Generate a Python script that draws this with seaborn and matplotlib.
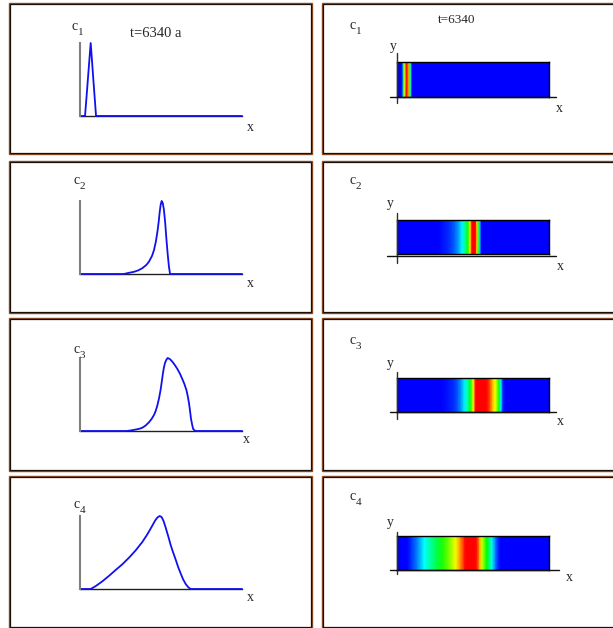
import numpy as np
import matplotlib
matplotlib.use("Agg")
import matplotlib.pyplot as plt
import seaborn as sns
from matplotlib.colors import LinearSegmentedColormap
from matplotlib.patches import Rectangle
from matplotlib.lines import Line2D

# concentration profiles c_i(x) at t=6340 a, x scaled to [0, 1], c scaled to its peak
x1 = [0.0, 0.031, 0.042, 0.052, 0.060, 0.066, 0.074, 0.083, 0.091, 0.099, 1.0]
c1 = [0.0, 0.0, 0.31, 0.60, 0.83, 1.0, 0.76, 0.48, 0.24, 0.0, 0.0]

x2 = [0.0, 0.27, 0.30, 0.333, 0.36, 0.385, 0.41, 0.426, 0.445, 0.457, 0.468, 0.478,
      0.486, 0.492, 0.498, 0.504, 0.511, 0.518, 0.526, 0.533, 0.541, 0.549, 0.556, 1.0]
c2 = [0.0, 0.0, 0.015, 0.03, 0.05, 0.08, 0.125, 0.17, 0.25, 0.33, 0.44, 0.58,
      0.72, 0.85, 0.95, 1.0, 0.97, 0.88, 0.70, 0.49, 0.28, 0.10, 0.0, 0.0]

x3 = [0.0, 0.29, 0.32, 0.344, 0.365, 0.385, 0.405, 0.426, 0.442, 0.457, 0.468, 0.478,
      0.488, 0.498, 0.505, 0.512, 0.518, 0.525, 0.533, 0.541, 0.555, 0.570, 0.585,
      0.601, 0.617, 0.632, 0.645, 0.657, 0.665, 0.673, 0.679, 0.685, 0.692, 0.698,
      0.706, 0.714, 1.0]
c3 = [0.0, 0.0, 0.01, 0.02, 0.03, 0.045, 0.075, 0.12, 0.165, 0.22, 0.28, 0.355,
      0.45, 0.57, 0.68, 0.79, 0.87, 0.935, 0.975, 1.0, 0.985, 0.95, 0.905,
      0.85, 0.785, 0.71, 0.64, 0.56, 0.48, 0.38, 0.28, 0.17, 0.09, 0.03,
      0.01, 0.0, 0.0]

x4 = [0.0, 0.066, 0.097, 0.138, 0.179, 0.22, 0.262, 0.303, 0.344, 0.385, 0.416, 0.447,
      0.463, 0.478, 0.492, 0.504, 0.516, 0.529, 0.545, 0.56, 0.575, 0.591, 0.606,
      0.622, 0.637, 0.652, 0.668, 0.683, 1.0]
c4 = [0.0, 0.0, 0.04, 0.105, 0.18, 0.26, 0.34, 0.43, 0.53, 0.645, 0.75, 0.87,
      0.935, 0.98, 1.0, 0.985, 0.93, 0.84, 0.72, 0.60, 0.50, 0.40, 0.30,
      0.21, 0.13, 0.07, 0.025, 0.0, 0.0]

profiles = [(x1, c1), (x2, c2), (x3, c3), (x4, c4)]
left_title = "t=6340 a"
right_title = "t=6340"

W, H = 613, 628

sns.set_style("white")
plt.rcParams['font.family'] = ['Liberation Serif', 'DejaVu Serif']

# blue -> cyan -> green -> yellow -> red
cmap = LinearSegmentedColormap.from_list(
    "conc", [(0.0, "#0000ff"), (0.18, "#00ffff"), (0.40, "#00ff00"),
             (0.66, "#ffff00"), (0.88, "#ff0000"), (1.0, "#ff0000")])


def fx(px):
    return px / W


def fy(py):
    return 1 - py / H


def box(left, top, right, bottom):
    return [fx(left), fy(bottom), (right - left) / W, (bottom - top) / H]


def seg(x0, y0, x1_, y1_, color, lw):
    fig.add_artist(Line2D([fx(x0), fx(x1_)], [fy(y0), fy(y1_)], color=color,
                          lw=lw, transform=fig.transFigure))


def label(px, py, s, size=10):
    fig.text(fx(px), fy(py), s, fontsize=size, ha="left", va="baseline")


def c_label(px, py, k):
    # "c" with a lowered index, as in the original drawing
    label(px, py, "c", 10)
    label(px + 6, py + 5, str(k), 8)


fig = plt.figure(figsize=(W / 100, H / 100), dpi=100)

# panel frames (pixel rows)
rows = [(4, 153), (162, 312), (319, 470), (477, 627)]
for top, bottom in rows:
    for left, right in [(10, 311), (323, 625)]:
        fig.add_artist(Rectangle((fx(left - 1), fy(bottom + 1)), (right - left + 2) / W,
                                 (bottom - top + 2) / H, transform=fig.transFigure,
                                 fill=False, edgecolor="#8e4c26", lw=1.0))
        fig.add_artist(Rectangle((fx(left), fy(bottom)), (right - left) / W,
                                 (bottom - top) / H, transform=fig.transFigure,
                                 fill=False, edgecolor="#1a1008", lw=0.9))

# left column: line profiles
line_axes = [(43, 116), (201, 274), (358, 431), (516, 589)]
c_base_left = [(72, 30), (74, 184), (74, 353), (74, 508)]
x_lab_left = [(247, 131), (247, 287), (243, 443), (247, 601)]

for i, ((xs, cs), (top, base)) in enumerate(zip(profiles, line_axes)):
    ax = fig.add_axes(box(80, top, 242, base))
    sns.lineplot(x=xs, y=cs, ax=ax, color="#1010f0", lw=1.3, estimator=None,
                 sort=False, clip_on=False)
    ax.set_xlim(0, 1)
    ax.set_ylim(0, 1)
    ax.set_xticks([])
    ax.set_yticks([])
    ax.set_xlabel("")
    ax.set_ylabel("")
    ax.patch.set_alpha(0)
    for s in ["top", "right"]:
        ax.spines[s].set_visible(False)
    ax.spines["left"].set_color("#7f7f7f")
    ax.spines["left"].set_linewidth(1.5)
    ax.spines["bottom"].set_color("#202020")
    ax.spines["bottom"].set_linewidth(1.0)
    ax.spines["bottom"].set_zorder(0)
    c_label(*c_base_left[i], i + 1)
    label(*x_lab_left[i], "x")

label(130, 37, left_title, 10.5)

# right column: 2-D concentration maps
map_rects = [(62, 97), (220, 254), (378, 412), (536, 570)]
v_lines = [(53, 103), (213, 263), (372, 419), (532, 574)]
h_lines = [(390, 97), (387, 256), (390, 412), (390, 570)]
h_ends = [556, 556, 556, 559]
c_base_right = [29, 184, 344, 500]
y_lab_right = [(390, 50), (387, 207), (387, 367), (387, 526)]
x_lab_right = [(556, 112), (557, 270), (557, 425), (566, 581)]

for i, ((xs, cs), (top, bottom)) in enumerate(zip(profiles, map_rects)):
    ax = fig.add_axes(box(397, top, 549, bottom))
    xs_arr = np.array(xs)
    cs_arr = np.array(cs)
    X = np.vstack([xs_arr, xs_arr])
    Y = np.vstack([np.zeros_like(xs_arr), np.ones_like(xs_arr)])
    C = np.vstack([cs_arr, cs_arr])
    ax.pcolormesh(X, Y, C, shading="gouraud", cmap=cmap, vmin=0, vmax=1)
    ax.set_xlim(0, 1)
    ax.set_ylim(0, 1)
    ax.set_xticks([])
    ax.set_yticks([])
    for s in ax.spines.values():
        s.set_color("black")
        s.set_linewidth(1.0)
    seg(397, v_lines[i][0], 397, v_lines[i][1], "#303030", 1.0)
    seg(h_lines[i][0], h_lines[i][1], h_ends[i], h_lines[i][1], "#101010", 1.0)
    c_label(350, c_base_right[i], i + 1)
    label(*y_lab_right[i], "y")
    label(*x_lab_right[i], "x")

label(438, 23, right_title, 9.5)

fig.savefig("out.png", dpi=100)
